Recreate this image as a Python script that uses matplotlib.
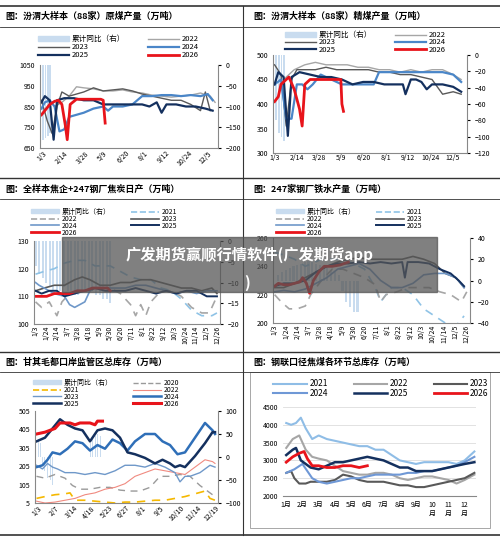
import matplotlib
matplotlib.use("Agg")
import matplotlib.pyplot as plt
from matplotlib.lines import Line2D
from matplotlib.patches import Patch, Rectangle
import numpy as np

plt.rcParams['font.family'] = ['Noto Sans CJK SC', 'DejaVu Sans']
W, H = 500, 539
fig = plt.figure(figsize=(5, 5.39), dpi=100)

def ax_at(x0, y0, x1, y1):
    return fig.add_axes([x0 / W, 1 - y1 / H, (x1 - x0) / W, (y1 - y0) / H])

def hline(y, x0=0, x1=500, lw=1.0, c='#333333'):
    fig.add_artist(Line2D([x0 / W, x1 / W], [1 - y / H, 1 - y / H], color=c, lw=lw))

def title(x, y, s):
    fig.text(x / W, 1 - y / H, s, fontsize=6.5, fontweight='bold', va='center')

def xy(d):
    k = list(d.keys()); v = list(d.values())
    return k, v

# ---------------- DATA ----------------
# Panel 1: raw coal (88 mines)
p1_2022 = {30:850,45:870,60:900,75:945,90:940,110:935,130:925,150:925,170:930,190:920,210:915,230:905,250:900,270:895,290:900,310:905,330:915,350:900,360:870}
p1_2023 = {3:880,15:780,25:720,35:850,45:920,60:900,90:920,110:940,130:925,150:930,170:935,190:925,210:910,230:900,250:890,270:880,290:880,310:860,330:830,340:920,350:830}
p1_2024 = {3:840,10:870,20:880,30:850,40:730,50:740,60:800,75:810,90:820,110:840,130:850,140:830,150:850,170:850,190:860,210:900,230:900,250:905,270:905,290:900,310:905,330:900,345:910,355:880}
p1_2025 = {3:870,10:900,20:880,28:690,35:880,50:890,70:890,90:880,110:880,130:860,150:860,170:860,190:860,210:860,225:850,240:870,250:820,260:860,280:860,300:850,320:850,340:840,355:830}
p1_2026 = {3:810,10:830,20:860,30:875,38:880,45:860,52:760,56:690,62:860,75:885,90:885,110:885,125:885,130:880,134:770}
p1_bars = {6:-180,11:-175,16:-170,21:-165}

# Panel 2: clean coal
p2_2022 = {20:450,40:470,60:480,80:485,100:480,120:480,140:480,160:475,180:475,200:470,220:470,240:465,260:470,280:465,300:470,320:470,340:460,355:450}
p2_2023 = {3:480,15:460,25:355,35:450,45:470,60:470,80:470,100:475,120:470,140:470,160:470,180:470,200:465,220:465,240:460,260:460,280:455,300:450,320:420,340:425,355:420}
p2_2024 = {3:440,15:450,25:370,35:370,45:440,55:440,65:430,75:440,90:460,110:450,130:440,150:440,170:440,190:440,200:465,220:465,240:465,260:465,280:465,300:465,320:465,340:460,355:445}
p2_2025 = {3:440,10:465,20:455,28:335,35:455,50:465,70:460,90:455,110:455,130:450,150:440,170:445,190:445,210:440,230:440,245:440,250:420,260:450,270:450,280:445,290:430,300:440,320:440,340:435,355:425}
p2_2026 = {3:405,10:415,15:440,25:450,30:455,40:430,50:390,55:355,60:440,70:450,90:450,110:450,128:450,130:400,133:385}
p2_bars = {6:-80,11:-95,16:-100,21:-105}

# Panel 3: coke daily output
p3_2021 = {3:118,20:119,40:120,60:122,80:123,100:123,120:121,150:121,170:119,190:117,210:116,230:116,250:113,270:112,290:109,310:105,330:103,350:103,360:104}
p3_2022 = {3:108,15:106,30:108,45:103,55:108,70:111,90:112,110:112,130:113,150:113,170:111,190:107,200:103,210:107,220:103,230:108,250:112,270:112,290:110,310:106,330:104,345:104,360:110}
p3_2023 = {3:112,20:113,40:114,60:114,80:116,95:117,110:116,130:114,150:114,170:115,190:115,210:116,230:116,250:115,270:114,290:113,310:113,330:112,350:113,360:111}
p3_2024 = {3:115,10:114,20:113,40:111,60:110,70:107,80:106,90:107,100:108,110:112,120:113,140:113,160:113,180:113,200:114,220:114,240:113,260:112,280:111,300:112,320:111,340:112,360:112}
p3_2025 = {3:112,15:111,30:112,45:112,60:110,80:111,100:112,120:113,140:112,160:112,180:112,200:113,220:112,240:111,260:112,280:111,300:112,320:112,340:110,360:110}
p3_2026 = {3:110,15:110,25:110,40:111,55:111,70:111,85:112,100:112,115:113,130:113,145:113,150:112}
p3_bars = {3:-6,10:-8,17:-9,24:-10,31:-11,38:-12,45:-13,52:-12,59:-11,66:-12,73:-12,80:-13,87:-13,94:-12,101:-12,108:-12,115:-12,122:-13,129:-13,136:-14,143:-14,150:-15}

# Panel 4: hot metal
p4_2021 = {3:250,20:248,40:245,60:240,90:245,110:245,130:245,150:242,170:238,190:225,200:215,220:225,240:225,260:220,280:210,300:205,320:200,340:198,355:205}
p4_2022 = {3:220,15:215,30:210,45:210,60:212,70:220,90:230,110:238,130:238,150:235,170:232,190:227,200:215,210:220,230:222,250:225,270:225,290:225,310:222,330:220,350:215,360:222}
p4_2023 = {3:225,20:225,40:228,60:232,80:236,100:240,120:243,140:245,160:246,180:245,200:245,220:245,240:245,260:247,280:245,300:242,320:235,340:232,355:225}
p4_2024 = {3:222,20:223,40:222,60:224,80:228,100:232,120:238,140:240,160:242,180:238,200:230,220:225,240:225,260:228,280:234,300:235,320:235,340:232,355:225}
p4_2025 = {3:226,20:228,40:228,60:230,80:236,100:240,120:242,140:242,160:243,180:242,200:243,220:242,240:243,245:232,250:243,270:243,290:242,310:238,330:235,345:230,355:226}
p4_2026 = {3:226,10:228,20:227,30:227,40:228,50:229,55:232,62:228,68:221,75:230,85:236,95:240,110:240,125:241,140:243}
p4_bars = {10:5,17:8,24:10,31:12,38:14,45:15,52:16,59:17,66:18,73:17,80:16,87:15,94:14,101:12,108:10,115:8,122:5,129:-10,136:-20,143:-25,150:-30,157:-30}

# Panel 5: Ganqimaodu port inventory
p5_2020 = {3:150,20:140,40:160,60:140,75:100,90:80,110:80,130:90,150:90,170:75,190:70,210:70,230:90,250:150,270:150,290:160,310:150,330:100,350:60,360:40}
p5_2021 = {3:30,20:40,40:50,60:55,70:60,80:20,100:20,120:15,140:10,160:5,180:10,200:10,220:15,240:20,260:20,280:30,300:40,320:55,340:70,350:30,360:20}
p5_2022 = {3:15,20:5,40:10,60:20,80:30,100:50,120:60,140:80,160:90,180:110,200:150,220:170,240:190,260:180,280:170,300:160,320:200,340:240,355:230,360:220}
p5_2023 = {3:210,15:190,25:220,35:200,45:190,60:170,80:170,100:160,120:170,140:160,160:180,180:210,200:210,220:200,240:220,260:200,280:170,290:120,300:150,310:150,330:170,350:210,360:200}
p5_2024 = {3:200,15:210,25:240,35:280,50:270,65:300,80:340,95:330,110:290,125:320,140:300,155:350,170:330,185:290,200:340,220:380,240:380,255:340,270:320,285:270,300:280,320:360,340:440,355:400,360:380}
p5_2025 = {3:340,20:360,35:410,50:460,65:430,80:410,95:400,110:340,125:400,140:410,155:400,170:360,185:280,200:270,220:250,240:220,255:240,270:220,280:200,290:210,300:200,320:260,340:330,355:390,360:390}
p5_2026 = {3:380,20:390,30:400,40:410,50:440,60:440,70:440,80:430,90:440,100:440,110:440,120:430,125:450,135:450}
p5_bars = {6:40,10:30,14:-20,18:-30,24:-45,30:-50,35:-60,110:30,115:40,120:45,125:50,130:45}

# Panel 6: Ceke port inventory (month positions)
p6_2021 = {1:4050,1.3:4000,1.6:4050,1.9:4200,2.2:3900,2.4:3750,2.6:3600,3:3700,3.5:3600,4:3550,4.5:3500,5:3450,5.5:3400,6:3400,6.5:3300,7:3300,7.5:3150,8:3000,8.5:2950,9:2900,9.5:2950,10:2950,10.5:2950,11:2950,11.5:2900,12:3000,12.6:3250}
p6_2022 = {1:3350,1.4:3600,1.8:3700,2.2:3300,2.6:3100,3:3050,3.5:3000,4:2850,4.5:2700,5:2650,5.5:2600,6:2600,6.5:2650,7:2650,7.5:2600,8:2500,8.5:2450,9:2500,9.5:2550,10:2550,10.5:2500,11:2450,11.5:2350,12:2450,12.6:2600}
p6_2023 = {1:2650,1.3:2700,1.5:2500,1.8:2350,2.2:2350,2.5:2400,3:2400,3.5:2400,4:2450,4.5:2600,5:2550,5.5:2450,6:2400,6.5:2400,7:2400,7.5:2350,8:2300,8.5:2300,9:2250,9.5:2250,10:2300,10.5:2350,11:2400,11.5:2450,12:2500,12.6:2650}
p6_2024 = {1:2650,1.5:2750,2:2900,2.3:2700,2.6:2500,3:2400,3.5:2350,4:2400,4.5:2450,5:2500,5.5:2500,6:2550,6.5:2600,7:2600,7.5:2600,8:2600,8.5:2650,9:2650,9.5:2700,10:2700,10.5:2750,11:2800,11.5:2850,12:2950,12.6:3100}
p6_2025 = {1:3150,1.4:3300,1.6:3350,1.9:3000,2.2:2900,2.5:2800,3:2750,3.5:2850,4:2950,4.5:2950,5:3000,5.5:3050,6:3100,6.5:3050,7:3000,7.5:2900,8:2800,8.5:2800,9:2700,9.5:2700,10:2700,10.5:2750,11:2800,11.5:2850,12:2900,12.6:2950}
p6_2026 = {1:2950,1.4:3100,1.8:3200,2.1:3250,2.3:3050,2.6:2850,3:2850,3.5:2800,4:2800,4.5:2850,5:2850,5.5:2800,6:2850}

ticks_a = ['1/3','2/14','3/28','5/9','6/20','8/1','9/12','10/24','12/5']
ticks_b = ['1/3','1/24','2/14','3/7','3/28','4/18','5/9','5/30','6/20','7/11','8/1','8/22','9/12','10/3','10/24','11/14','12/5','12/26']
ticks_c = ['1/3','2/7','3/14','4/18','5/23','6/27','8/1','9/5','10/10','11/14','12/19']
months = ['1月','2月','3月','4月','5月','6月','7月','8月','9月','10\n月','11\n月','12\n月']

def doy(s):
    m, d = map(int, s.split('/'))
    cum = [0,31,59,90,120,151,181,212,243,273,304,334]
    return cum[m-1] + d

C21 = '#8fc3e6'; C22 = '#a6a6a6'; C23 = '#595959'; C24 = '#4a86c8'; C25 = '#14305e'; C26 = '#e8141b'; CBAR = '#c9dcef'

def setup(ax, ticks, ylim, yt, rot=45, fs=5):
    ax.set_xlim(0, 366)
    ax.set_xticks([doy(t) for t in ticks])
    ax.set_xticklabels(ticks, rotation=rot, fontsize=fs)
    ax.set_ylim(*ylim); ax.set_yticks(yt)
    ax.tick_params(axis='y', labelsize=fs, length=0)
    ax.tick_params(axis='x', length=0, pad=1)
    for s in ['top', 'right']:
        ax.spines[s].set_visible(False)
    ax.spines['left'].set_color('#888'); ax.spines['bottom'].set_color('#888')

def right(ax, ylim, yt, bars, fs=5, bw=3):
    r = ax.twinx()
    r.set_ylim(*ylim); r.set_yticks(yt)
    r.tick_params(labelsize=fs, length=2)
    k, v = xy(bars)
    r.bar(k, v, width=bw, color=CBAR, zorder=0)
    ax.set_zorder(r.get_zorder() + 1); ax.patch.set_visible(False)
    for s in ['top', 'left']:
        r.spines[s].set_visible(False)
    r.spines['right'].set_color('#888'); r.spines['bottom'].set_visible(False)
    return r

def plot(ax, d, c, lw=1.2, ls='-'):
    k, v = xy(d)
    ax.plot(k, v, color=c, lw=lw, ls=ls)

def legend(x, y, items, ncol=2, fs=5.5, ls_=0.05):
    handles = []
    for lab, c, lw, ls in items:
        if lab.startswith('累计'):
            handles.append(Patch(color=CBAR, label=lab))
        else:
            handles.append(Line2D([], [], color=c, lw=lw, ls=ls, label=lab))
    # row-major order
    ordered = [handles[i] for c in range(ncol) for i in range(c, len(handles), ncol)]
    fig.legend(handles=ordered, loc='upper left', bbox_to_anchor=(x / W, 1 - y / H), ncol=ncol,
               frameon=False, fontsize=fs, handlelength=4, columnspacing=3, labelspacing=ls_,
               handletextpad=0.4, borderaxespad=0, handleheight=0.5)

# frame lines
hline(6, lw=1.2); hline(27, 0, 243, 0.6); hline(27, 243, 500, 0.6)
hline(178, lw=1.0); hline(199, lw=0.6)
hline(352, lw=1.0); hline(372, lw=0.6)
hline(535, lw=1.2)
fig.add_artist(Line2D([243 / W] * 2, [1 - 6 / H, 1 - 535 / H], color='#333', lw=0.8))

title(5, 16, '图：汾渭大样本（88家）原煤产量（万吨）')
title(253, 16, '图：汾渭大样本（88家）精煤产量（万吨）')
title(5, 189, '图：全样本焦企+247钢厂焦炭日产（万吨）')
title(253, 189, '图：247家钢厂铁水产量（万吨）')
title(5, 362, '图：甘其毛都口岸监管区总库存（万吨）')
title(253, 362, '图：钢联口径焦煤各环节总库存（万吨）')

# Panel 1
ax = ax_at(40, 65, 218, 148)
setup(ax, ticks_a, (650, 1050), [650, 750, 850, 950, 1050])
right(ax, (-200, 0), [-200, -150, -100, -50, 0], p1_bars)
for d, c, lw in [(p1_2022, C22, 1.0), (p1_2023, C23, 1.0), (p1_2024, C24, 1.6), (p1_2025, C25, 1.6), (p1_2026, C26, 2.0)]:
    plot(ax, d, c, lw)
legend(35, 32, [('累计同比（右）', CBAR, 4, '-'), ('2022', C22, 1, '-'), ('2023', C23, 1, '-'), ('2024', C24, 1.6, '-'), ('2025', C25, 1.6, '-'), ('2026', C26, 2, '-')], ls_=0.0)

# Panel 2
ax = ax_at(273, 55, 467, 153)
setup(ax, ticks_a, (300, 500), [300, 350, 400, 450, 500], rot=0)
right(ax, (-120, 0), [-120, -100, -80, -60, -40, -20, 0], p2_bars)
for d, c, lw in [(p2_2022, C22, 1.0), (p2_2023, C23, 1.0), (p2_2024, C24, 1.6), (p2_2025, C25, 1.6), (p2_2026, C26, 2.0)]:
    plot(ax, d, c, lw)
legend(282, 28, [('累计同比（右）', CBAR, 4, '-'), ('2022', C22, 1, '-'), ('2023', C23, 1, '-'), ('2024', C24, 1.6, '-'), ('2025', C25, 1.6, '-'), ('2026', C26, 2, '-')], ls_=-0.1)

# Panel 3
ax = ax_at(34, 241, 220, 324)
setup(ax, ticks_b, (100, 130), [100, 110, 120, 130], rot=90)
right(ax, (-20, 0), [-20, -15, -10, -5, 0], p3_bars, bw=4)
for d, c, lw, ls in [(p3_2021, C21, 1.2, (0, (5, 4))), (p3_2022, C22, 1.2, (0, (5, 4))), (p3_2023, C23, 1.2, '-'), (p3_2024, '#6f98c9', 1.2, '-'), (p3_2025, C25, 1.4, '-'), (p3_2026, C26, 2.0, '-')]:
    plot(ax, d, c, lw, ls)
legend(28, 205, [('累计同比（右）', CBAR, 4, '-'), ('2021', C21, 1.2, '--'), ('2022', C22, 1.2, '--'), ('2023', C23, 1.2, '-'), ('2024', '#6f98c9', 1.2, '-'), ('2025', C25, 1.4, '-'), ('2026', C26, 2, '-')], fs=5, ls_=-0.15)

# Panel 4
ax = ax_at(273, 238, 470, 323)
setup(ax, ticks_b, (200, 260), [200, 220, 240, 260], rot=90)
right(ax, (-40, 40), [-40, -20, 0, 20, 40], p4_bars, bw=4)
for d, c, lw, ls in [(p4_2021, C21, 1.2, (0, (5, 4))), (p4_2022, C22, 1.2, (0, (5, 4))), (p4_2023, C23, 1.2, '-'), (p4_2024, '#6f98c9', 1.2, '-'), (p4_2025, C25, 1.4, '-'), (p4_2026, C26, 2.0, '-')]:
    plot(ax, d, c, lw, ls)
legend(273, 205, [('累计同比（右）', CBAR, 4, '-'), ('2021', C21, 1.2, '--'), ('2022', C22, 1.2, '--'), ('2023', C23, 1.2, '-'), ('2024', '#6f98c9', 1.2, '-'), ('2025', C25, 1.4, '-'), ('2026', C26, 2, '-')], fs=5, ls_=-0.15)

# Panel 5
ax = ax_at(35, 411, 218, 503)
setup(ax, ticks_c, (5, 505), [5, 105, 205, 305, 405, 505], rot=45)
right(ax, (-100, 100), [-100, -50, 0, 50, 100], p5_bars, bw=2)
for d, c, lw, ls in [(p5_2020, '#9a9a9a', 1.0, (0, (5, 4))), (p5_2021, '#f5b800', 1.2, (0, (5, 4))), (p5_2022, '#f08a80', 0.8, '-'), (p5_2023, '#6f98c9', 1.0, '-'), (p5_2024, '#2f6fb8', 1.8, '-'), (p5_2025, C25, 1.8, '-'), (p5_2026, C26, 2.2, '-')]:
    plot(ax, d, c, lw, ls)
legend(30, 376, [('累计同比（右）', CBAR, 4, '-'), ('2020', '#9a9a9a', 1, '--'), ('2021', '#f5b800', 1.2, '--'), ('2022', '#f08a80', 0.8, '-'), ('2023', '#6f98c9', 1, '-'), ('2024', '#2f6fb8', 1.8, '-'), ('2025', C25, 1.8, '-'), ('2026', C26, 2.2, '-')], fs=5, ls_=-0.15)

# Panel 6
fig.add_artist(Rectangle((250 / W, 1 - 528 / H), 240 / W, 156 / H, fill=False, ec='#999', lw=0.6))
ax = ax_at(283, 407, 476, 496)
ax.set_xlim(0.8, 12.7); ax.set_ylim(2000, 4500)
ax.set_xticks(range(1, 13)); ax.set_xticklabels(months, fontsize=5)
ax.set_yticks(range(2000, 4501, 500)); ax.tick_params(labelsize=5, length=0)
ax.yaxis.grid(True, color='#dddddd', lw=0.6)
for s in ['top', 'right', 'left']:
    ax.spines[s].set_visible(False)
ax.spines['bottom'].set_color('#888')
for d, c, lw in [(p6_2021, '#8fbde6', 1.5), (p6_2022, '#a6a6a6', 1.5), (p6_2023, '#595959', 1.5), (p6_2024, '#6f98d6', 1.5), (p6_2025, C25, 1.8), (p6_2026, C26, 2.0)]:
    plot(ax, d, c, lw)
legend(270, 376, [('2021', '#8fbde6', 1.5, '-'), ('2022', '#a6a6a6', 1.5, '-'), ('2023', '#595959', 1.5, '-'), ('2024', '#6f98d6', 1.5, '-'), ('2025', C25, 1.8, '-'), ('2026', C26, 2, '-')], ncol=3, fs=6)

# watermark banner
fig.add_artist(Rectangle((62 / W, 1 - 292 / H), 375 / W, 55 / H, color='#555555', alpha=0.75, zorder=20))
fig.text(250 / W, 1 - 255 / H, '广发期货赢顺行情软件(广发期货app', fontsize=11, color='white', fontweight='bold', ha='center', va='center', zorder=21)
fig.text(247 / W, 1 - 283 / H, ')', fontsize=11, color='white', fontweight='bold', ha='center', va='center', zorder=21)

fig.savefig('out.png', dpi=100)
